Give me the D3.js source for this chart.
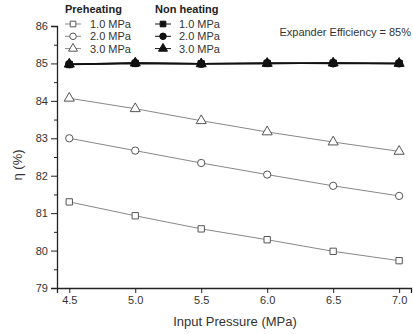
<!DOCTYPE html>
<html>
<head>
<meta charset="utf-8">
<script src="https://cdn.jsdelivr.net/npm/d3@7"></script>
<style>
  body { margin: 0; background: #fff; }
  svg { font-family: "Liberation Sans", Arial, sans-serif; }
</style>
</head>
<body>
<div id="chart"></div>
<script>
const pressures = [4.5, 5.0, 5.5, 6.0, 6.5, 7.0];
const pre10 = [81.30, 80.93, 80.58, 80.29, 79.98, 79.73];
const pre20 = [83.00, 82.67, 82.34, 82.03, 81.73, 81.46];
const pre30 = [84.07, 83.79, 83.47, 83.17, 82.90, 82.65];
const non10 = [84.97, 85.00, 84.99, 85.00, 85.01, 85.00];
const non20 = [84.98, 85.01, 84.99, 85.01, 85.00, 85.00];
const non30 = [84.98, 85.01, 84.99, 85.00, 85.01, 85.00];
const xTicks = [4.5, 5.0, 5.5, 6.0, 6.5, 7.0];
const yTicks = [79, 80, 81, 82, 83, 84, 85, 86];
const yMinor = [79.5, 80.5, 81.5, 82.5, 83.5, 84.5, 85.5];

const W = 413, H = 334;
const margin = { top: 26, right: 2, bottom: 46, left: 57 };

const svg = d3.select('#chart').append('svg')
  .attr('width', W).attr('height', H);

const x = d3.scaleLinear().domain([4.407, 7.09]).range([margin.left, W - margin.right]);
const y = d3.scaleLinear().domain([79, 86]).range([H - margin.bottom, margin.top]);

// axes
svg.append('g')
  .attr('transform', `translate(0,${y(79)})`)
  .call(d3.axisBottom(x).tickValues(xTicks).tickFormat(d3.format('.1f')).tickSize(5).tickPadding(3));
svg.append('g')
  .attr('transform', `translate(${x.range()[0]},0)`)
  .call(d3.axisLeft(y).tickValues(yTicks).tickFormat(d3.format('d')).tickSize(6).tickPadding(3));
svg.append('g')
  .attr('transform', `translate(${x.range()[0]},0)`)
  .call(d3.axisLeft(y).tickValues(yMinor).tickSize(3).tickFormat(''))
  .select('.domain').remove();

svg.selectAll('.domain').attr('stroke', '#222').attr('stroke-width', 1.3);
svg.selectAll('.tick line').attr('stroke', '#222');
svg.selectAll('.tick text').attr('font-size', 11).attr('fill', '#333')
  .attr('font-family', '"Liberation Sans", Arial, sans-serif');

// labels
svg.append('text')
  .attr('x', (x.range()[0] + x.range()[1]) / 2 + 1).attr('y', 326)
  .attr('text-anchor', 'middle').attr('font-size', 13).attr('fill', '#333')
  .text('Input Pressure (MPa)');
svg.append('text')
  .attr('transform', `translate(22,${(y(79) + y(86)) / 2 + 8}) rotate(-90)`)
  .attr('text-anchor', 'middle').attr('font-size', 13).attr('fill', '#333')
  .text('η (%)');
svg.append('text')
  .attr('x', 411).attr('y', 36)
  .attr('text-anchor', 'end').attr('font-size', 11).attr('fill', '#333')
  .text('Expander Efficiency = 85%');

const series = [
  { vals: pre10, sym: d3.symbolSquare, filled: false },
  { vals: pre20, sym: d3.symbolCircle, filled: false },
  { vals: pre30, sym: d3.symbolTriangle, filled: false },
  { vals: non30, sym: d3.symbolTriangle, filled: true },
  { vals: non20, sym: d3.symbolCircle, filled: true },
  { vals: non10, sym: d3.symbolSquare, filled: true }
];

const symSize = s => s === d3.symbolTriangle ? 44 : (s === d3.symbolCircle ? 42 : 40);

const line = d3.line().x((d, i) => x(pressures[i])).y(d => y(d));

series.forEach(s => {
  const col = s.filled ? '#111' : '#888';
  svg.append('path').datum(s.vals)
    .attr('fill', 'none').attr('stroke', col).attr('stroke-width', s.filled ? 1.4 : 1)
    .attr('d', line);
  svg.append('g').selectAll('path').data(s.vals).join('path')
    .attr('transform', (d, i) => `translate(${x(pressures[i])},${y(d)})`)
    .attr('d', d3.symbol(s.sym, symSize(s.sym)))
    .attr('fill', s.filled ? '#111' : '#fff')
    .attr('stroke', s.filled ? '#111' : '#555')
    .attr('stroke-width', 1);
});

// legend
function legendBlock(x0, len, textX, title, items, filled) {
  svg.append('text').attr('x', x0).attr('y', 13)
    .attr('font-size', 11).attr('font-weight', 'bold').attr('fill', '#222').text(title);
  items.forEach((it, i) => {
    const yy = 24 + i * 12.3;
    const col = filled ? '#111' : '#888';
    svg.append('line').attr('x1', x0).attr('x2', x0 + len).attr('y1', yy).attr('y2', yy)
      .attr('stroke', col).attr('stroke-width', 1);
    svg.append('path').attr('transform', `translate(${x0 + len / 2},${yy})`)
      .attr('d', d3.symbol(it.sym, symSize(it.sym) * 0.8))
      .attr('fill', filled ? '#111' : '#fff').attr('stroke', filled ? '#111' : '#555');
    svg.append('text').attr('x', textX).attr('y', yy + 4)
      .attr('font-size', 11).attr('fill', '#333').text(it.label);
  });
}
const legendItems = [
  { sym: d3.symbolSquare, label: '1.0 MPa' },
  { sym: d3.symbolCircle, label: '2.0 MPa' },
  { sym: d3.symbolTriangle, label: '3.0 MPa' }];
legendBlock(65, 16, 90, 'Preheating', legendItems, false);
legendBlock(155, 16, 179, 'Non heating', legendItems, true);
</script>
</body>
</html>
